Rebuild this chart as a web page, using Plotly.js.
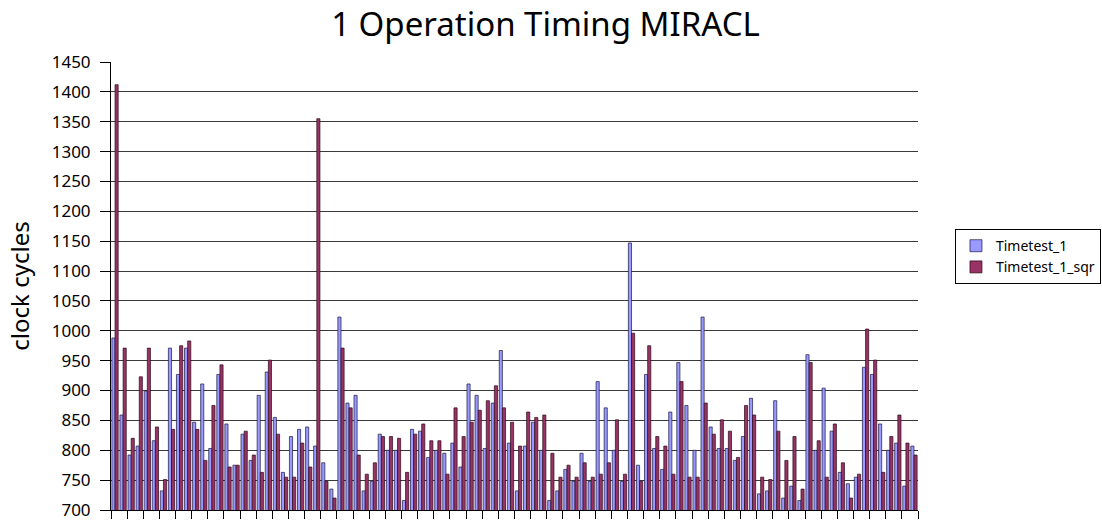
<!DOCTYPE html>
<html>
<head>
<meta charset="utf-8">
<script src="https://cdn.plot.ly/plotly-3.0.1.min.js"></script>
<style>html,body{margin:0;padding:0;background:#fff;}#chart{width:1102px;height:523px;}</style>
</head>
<body>
<div id="chart"></div>
<script>
const categories = [
  "1","2","3","4","5","6","7","8","9","10",
  "11","12","13","14","15","16","17","18","19","20",
  "21","22","23","24","25","26","27","28","29","30",
  "31","32","33","34","35","36","37","38","39","40",
  "41","42","43","44","45","46","47","48","49","50",
  "51","52","53","54","55","56","57","58","59","60",
  "61","62","63","64","65","66","67","68","69","70",
  "71","72","73","74","75","76","77","78","79","80",
  "81","82","83","84","85","86","87","88","89","90",
  "91","92","93","94","95","96","97","98","99","100"
];
const timetest1 = [
  988, 859, 792, 807, 899, 816, 732, 971, 927, 971,
  847, 911, 803, 927, 844, 775, 827, 783, 892, 931,
  855, 763, 823, 835, 839, 807, 779, 735, 1023, 879,
  892, 732, 748, 827, 800, 800, 716, 835, 832, 788,
  800, 795, 812, 772, 911, 892, 803, 879, 967, 812,
  732, 807, 847, 800, 716, 732, 768, 748, 795, 748,
  915, 871, 800, 748, 1147, 775, 927, 803, 768, 864,
  947, 875, 800, 1023, 839, 803, 803, 783, 823, 887,
  727, 732, 883, 720, 740, 716, 960, 800, 904, 832,
  763, 744, 755, 939, 927, 844, 800, 812, 740, 807
];
const timetest1Sqr = [
  1412, 971, 820, 923, 971, 839, 751, 835, 975, 983,
  835, 783, 875, 943, 772, 775, 832, 792, 763, 951,
  827, 755, 755, 812, 772, 1355, 748, 720, 971, 871,
  792, 760, 779, 823, 823, 820, 763, 827, 844, 816,
  816, 760, 871, 823, 847, 867, 883, 908, 871, 847,
  807, 864, 855, 859, 795, 755, 775, 755, 779, 755,
  760, 779, 851, 760, 996, 748, 975, 823, 807, 760,
  915, 755, 755, 879, 827, 851, 832, 788, 875, 859,
  755, 751, 832, 783, 823, 735, 947, 816, 755, 844,
  779, 720, 760, 1003, 951, 763, 823, 859, 812, 792
];
const seriesNames = ["Timetest_1", "Timetest_1_sqr"];
const yTicks = [700,750,800,850,900,950,1000,1050,1100,1150,1200,1250,1300,1350,1400,1450];

const FONT = '"Noto Sans", "DejaVu Sans", sans-serif';

const traces = [
  {type:'bar', name:seriesNames[0], x:categories, y:timetest1,
   marker:{color:'#9999FF', line:{color:'#1a1a40', width:0.7}}},
  {type:'bar', name:seriesNames[1], x:categories, y:timetest1Sqr,
   marker:{color:'#993366', line:{color:'#2a0a18', width:0.7}}}
];

const layout = {
  width:1102, height:523,
  paper_bgcolor:'#ffffff', plot_bgcolor:'#ffffff',
  margin:{l:111, r:184, t:62, b:13, pad:0, autoexpand:false},
  barmode:'group', bargap:0.22, bargroupgap:0,
  font:{family:FONT, color:'#000'},
  title:{text:'1 Operation Timing MIRACL', font:{family:FONT, size:33, color:'#000'},
         xref:'container', x:0.495, xanchor:'center', yref:'container', y:0.953, yanchor:'middle'},
  xaxis:{type:'category', tickson:'boundaries', ticks:'outside', ticklen:8, tickcolor:'#000', tickwidth:1,
         showticklabels:false, showgrid:false, showline:true, linecolor:'#000', linewidth:1,
         zeroline:false, fixedrange:true},
  yaxis:{range:[700,1450], tickvals:yTicks, ticktext:yTicks.map(String), ticks:'outside', ticklen:10,
         tickcolor:'#000', tickwidth:1, showline:true, linecolor:'#000', linewidth:1,
         showgrid:true, gridcolor:'#3a3a3a', gridwidth:1, zeroline:false, ticklabelstandoff:6,
         tickfont:{family:FONT, size:17, color:'#000'},
         title:{text:'clock cycles', font:{family:FONT, size:24, color:'#000'}, standoff:15}},
  legend:{x:1.0458, xanchor:'left', y:0.627, yanchor:'top', bordercolor:'#000', borderwidth:1,
          bgcolor:'#fff', font:{family:FONT, size:14, color:'#000'}, tracegroupgap:0}
};

Plotly.newPlot('chart', traces, layout, {displayModeBar:false, staticPlot:true});
</script>
</body>
</html>
